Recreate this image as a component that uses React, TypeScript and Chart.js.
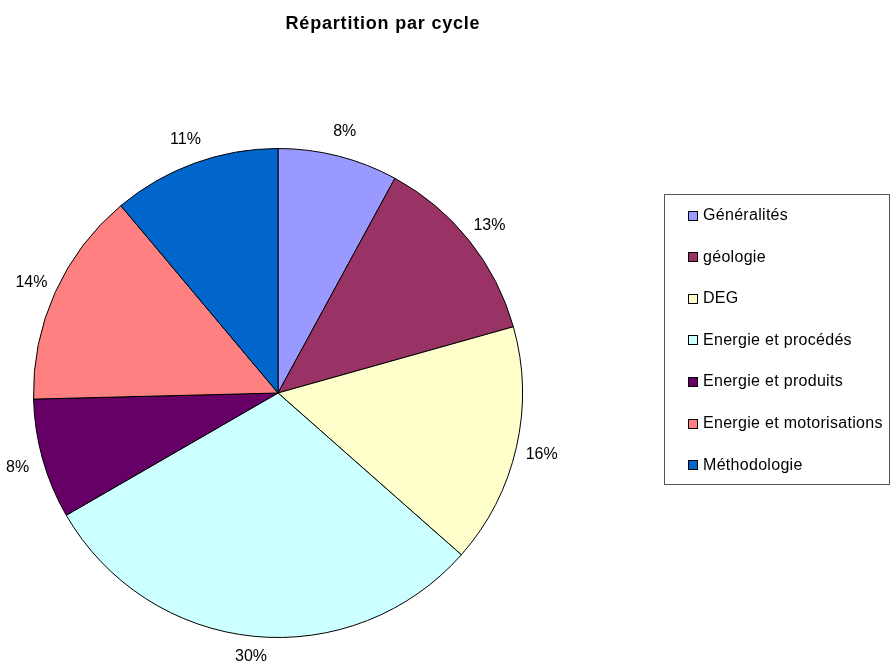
import React, { useEffect, useRef } from "react";
import { Chart, registerables } from "chart.js";

Chart.register(...registerables);

const chartTitle = "Répartition par cycle";
const categories = [
  "Généralités",
  "géologie",
  "DEG",
  "Energie et procédés",
  "Energie et produits",
  "Energie et motorisations",
  "Méthodologie",
];
const values = [5, 8, 10, 19, 5, 9, 7];
const colors = ["#9999FF", "#993366", "#FFFFCC", "#CCFFFF", "#660066", "#FF8080", "#0066CC"];

const FONT = '"Liberation Sans", Arial, Helvetica, sans-serif';

const overlayPlugin = {
  id: "overlay",
  afterDraw(chart: any) {
    const ctx: CanvasRenderingContext2D = chart.ctx;
    ctx.save();

    // Title
    ctx.fillStyle = "#000";
    ctx.font = `bold 18px ${FONT}`;
    (ctx as any).letterSpacing = "0.8px";
    ctx.textAlign = "center";
    ctx.textBaseline = "alphabetic";
    ctx.fillText(chartTitle, 383, 29);

    // Percentage labels outside slices (kept inside the canvas)
    (ctx as any).letterSpacing = "0px";
    ctx.font = `16px ${FONT}`;
    ctx.textBaseline = "middle";
    ctx.textAlign = "center";
    const total = values.reduce((a, b) => a + b, 0);
    const meta = chart.getDatasetMeta(0);
    meta.data.forEach((arc: any, i: number) => {
      const mid = (arc.startAngle + arc.endAngle) / 2;
      const r = arc.outerRadius + 26;
      const x = arc.x + Math.cos(mid) * r;
      let y = arc.y + Math.sin(mid) * r + 1;
      y = Math.min(y, chart.height - 7);
      const pct = Math.round((values[i] / total) * 100);
      ctx.fillText(`${pct}%`, x, y);
    });

    // Legend
    const lx = 664;
    const ly = 194;
    const lw = 225;
    const lh = 290;
    ctx.strokeStyle = "#555555";
    ctx.lineWidth = 1;
    ctx.strokeRect(lx + 0.5, ly + 0.5, lw, lh);
    ctx.font = `16px ${FONT}`;
    (ctx as any).letterSpacing = "0.3px";
    ctx.textAlign = "left";
    ctx.textBaseline = "middle";
    categories.forEach((c, i) => {
      const cy = 215.5 + i * 41.6;
      ctx.fillStyle = colors[i];
      ctx.fillRect(688, Math.round(cy) - 5, 10, 10);
      ctx.strokeStyle = "#000";
      ctx.strokeRect(688.5, Math.round(cy) - 4.5, 9, 9);
      ctx.fillStyle = "#000";
      ctx.fillText(c, 703, cy);
    });
    ctx.restore();
  },
};

export default function App() {
  const ref = useRef<HTMLCanvasElement | null>(null);
  useEffect(() => {
    if (!ref.current) return;
    const chart = new Chart(ref.current, {
      type: "pie",
      data: {
        labels: categories,
        datasets: [
          {
            data: values,
            backgroundColor: colors,
            borderColor: "#000",
            borderWidth: 1,
            hoverOffset: 0,
          },
        ],
      },
      options: {
        responsive: false,
        animation: false,
        devicePixelRatio: 1,
        layout: { padding: { left: 33, right: 367, top: 148, bottom: 26 } },
        plugins: {
          legend: { display: false },
          title: { display: false },
          tooltip: { enabled: false },
        },
        events: [],
      },
      plugins: [overlayPlugin],
    });
    return () => chart.destroy();
  }, []);
  return (
    <div style={{ position: "absolute", left: 0, top: 0, width: 890, height: 664, background: "#fff" }}>
      <canvas ref={ref} width={890} height={664} style={{ width: 890, height: 664, display: "block" }} />
    </div>
  );
}
